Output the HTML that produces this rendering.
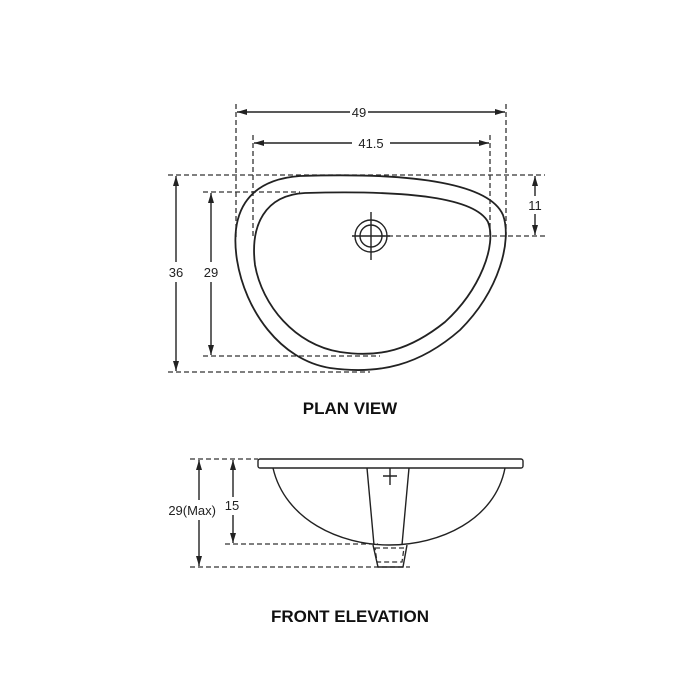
<!DOCTYPE html>
<html><head><style>body{margin:0;background:#fff}svg{display:block}</style></head><body>
<svg width="699" height="699" viewBox="0 0 699 699" xmlns="http://www.w3.org/2000/svg" font-family="Liberation Sans, sans-serif">
<defs><marker id="a" viewBox="0 0 10 6" refX="10" refY="3" markerWidth="10" markerHeight="6" orient="auto-start-reverse" markerUnits="userSpaceOnUse"><path d="M0,0L10,3L0,6z" fill="#222"/></marker></defs>
<g stroke="#333" stroke-width="1.3" fill="none" stroke-dasharray="5,3">
<line x1="236" y1="104" x2="236" y2="240"/><line x1="506" y1="104" x2="506" y2="240"/>
<line x1="253" y1="135" x2="253" y2="238"/><line x1="490" y1="135" x2="490" y2="238"/>
<line x1="168" y1="175" x2="545" y2="175"/><line x1="203" y1="192" x2="300" y2="192"/>
<line x1="203" y1="356" x2="380" y2="356"/><line x1="168" y1="372" x2="370" y2="372"/>
<line x1="380" y1="236" x2="545" y2="236"/>
<line x1="190" y1="459" x2="258" y2="459"/><line x1="225" y1="544" x2="378" y2="544"/>
<line x1="190" y1="567" x2="410" y2="567"/>
<path d="M375,548H404L402,562H377Z"/>
</g>
<g stroke="#222" stroke-width="1.4" fill="none">
<line x1="237" y1="112" x2="350" y2="112" marker-start="url(#a)"/><line x1="368" y1="112" x2="505" y2="112" marker-end="url(#a)"/>
<line x1="254" y1="143" x2="352" y2="143" marker-start="url(#a)"/><line x1="390" y1="143" x2="489" y2="143" marker-end="url(#a)"/>
<line x1="176" y1="176" x2="176" y2="262" marker-start="url(#a)"/><line x1="176" y1="282" x2="176" y2="371" marker-end="url(#a)"/>
<line x1="211" y1="193" x2="211" y2="262" marker-start="url(#a)"/><line x1="211" y1="282" x2="211" y2="355" marker-end="url(#a)"/>
<line x1="535" y1="176" x2="535" y2="196" marker-start="url(#a)"/><line x1="535" y1="214" x2="535" y2="235" marker-end="url(#a)"/>
<path d="M300,176C420,172 490,185 503,215C512,240 500,290 460,330C420,365 380,375 330,368C280,360 245,310 237,260C230,215 245,180 300,176Z" stroke-width="1.8"/>
<path d="M305,193C410,190 475,198 488,222C497,245 480,290 445,322C410,350 380,358 340,352C295,345 262,305 255,265C250,225 265,195 305,193Z" stroke-width="1.8"/>
<circle cx="371" cy="236" r="16"/><circle cx="371" cy="236" r="11"/>
<line x1="352" y1="236" x2="390" y2="236"/><line x1="371" y1="212" x2="371" y2="260"/>
<rect x="258" y="459" width="265" height="9" rx="2"/>
<path d="M273,468C285,520 340,545 389,545C440,545 495,520 505,468"/>
<path d="M367,468L374,545M409,468L402,545"/>
<path d="M373,545L378,567H403L407,545"/>
<path d="M383,476H397M390,468V485"/>
<line x1="199" y1="460" x2="199" y2="500" marker-start="url(#a)"/><line x1="199" y1="520" x2="199" y2="566" marker-end="url(#a)"/>
<line x1="233" y1="460" x2="233" y2="497" marker-start="url(#a)"/><line x1="233" y1="515" x2="233" y2="543" marker-end="url(#a)"/>
</g>
<g font-size="13" fill="#222" text-anchor="middle">
<text x="359" y="117">49</text><text x="371" y="148">41.5</text>
<text x="176" y="277">36</text><text x="211" y="277">29</text><text x="535" y="210">11</text>
<text x="216" y="515" text-anchor="end">29(Max)</text><text x="232" y="510">15</text>
</g>
<g font-size="17" font-weight="bold" fill="#111" text-anchor="middle">
<text x="350" y="414">PLAN VIEW</text><text x="350" y="622">FRONT ELEVATION</text>
</g>
</svg>
</body></html>
